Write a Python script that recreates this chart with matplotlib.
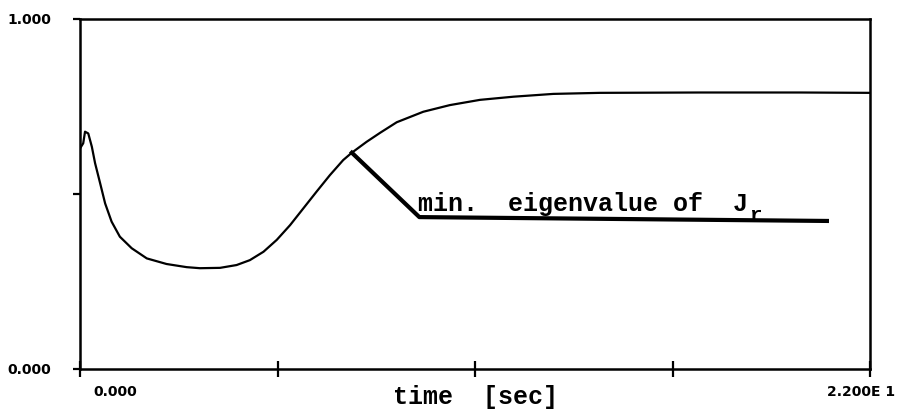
import matplotlib
matplotlib.use("Agg")
import matplotlib.pyplot as plt

# minimum eigenvalue vs time
t = [0.0, 0.09, 0.14, 0.23, 0.33, 0.42, 0.56, 0.70, 0.88, 1.11, 1.44, 1.86,
     2.41, 2.97, 3.34, 3.90, 4.36, 4.73, 5.11, 5.48, 5.85, 6.22, 6.59, 6.96,
     7.33, 7.57, 7.98, 8.36, 8.82, 9.56, 10.30, 11.14, 12.07, 13.18, 14.48,
     17.27, 20.05, 22.0]
v = [0.63, 0.645, 0.678, 0.673, 0.635, 0.588, 0.531, 0.473, 0.421, 0.378,
     0.345, 0.316, 0.300, 0.291, 0.288, 0.289, 0.297, 0.311, 0.335, 0.369,
     0.411, 0.459, 0.507, 0.554, 0.597, 0.618, 0.649, 0.675, 0.705, 0.735,
     0.754, 0.769, 0.778, 0.786, 0.789, 0.79, 0.79, 0.789]

# leader line for the label
leader_t = [7.57, 9.45, 20.8]
leader_v = [0.618, 0.434, 0.423]

x_ticks = [0, 5.5, 11, 16.5, 22]
y_ticks = [0, 0.5, 1.0]
y_ticklabels = ["0.000", "", "1.000"]

label_font = "DejaVu Sans"
mono_font = "Liberation Mono"

fig = plt.figure(figsize=(8.97, 4.16), dpi=100)
ax = fig.add_axes([80 / 897, 47 / 416, 790 / 897, 350 / 416])

ax.plot(t, v, color="black", lw=1.6, solid_joinstyle="round")
ax.plot(leader_t, leader_v, color="black", lw=3.0, solid_joinstyle="round")

ax.set_xlim(0, 22)
ax.set_ylim(0, 1)

for s in ax.spines.values():
    s.set_linewidth(1.8)

ax.set_xticks(x_ticks)
ax.set_xticklabels([])
ax.tick_params(axis="x", direction="inout", length=12, width=1.6)
ax.set_yticks(y_ticks)
ax.set_yticklabels(y_ticklabels, fontfamily=label_font, fontweight="bold", fontsize=10)
ax.tick_params(axis="y", direction="out", length=5, width=1.6, pad=16)

xt = ax.get_xaxis_transform()
ax.text(0.98, -0.066, "0.000", transform=xt, ha="center", va="center",
        fontfamily=label_font, fontweight="bold", fontsize=10)
fig.text(895 / 897, 1 - 392 / 416, "2.200E 1", ha="right", va="center",
         fontfamily=label_font, fontweight="bold", fontsize=10)
ax.text(11, -0.08, "time  [sec]", transform=xt, ha="center", va="center",
        fontfamily=mono_font, fontweight="bold", fontsize=18)

lbl = ax.text(9.4, 0.45, "min.  eigenvalue of  J", ha="left", va="baseline",
              fontfamily=mono_font, fontweight="bold", fontsize=18)
ax.annotate("r", xy=(1.0, 0.0), xycoords=lbl, xytext=(1, -6),
            textcoords="offset points", ha="left", va="bottom",
            fontfamily=mono_font, fontweight="bold", fontsize=15)

fig.savefig("out.png", dpi=100)
